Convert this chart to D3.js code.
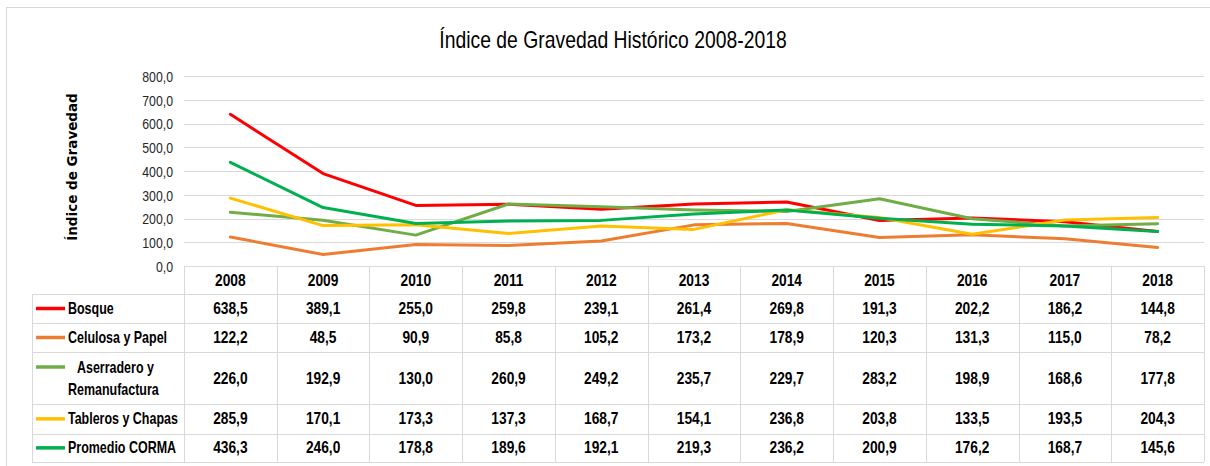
<!DOCTYPE html>
<html>
<head>
  <meta charset="utf-8">
  <title>Índice de Gravedad Histórico 2008-2018</title>
  <script src="https://cdn.jsdelivr.net/npm/d3@7/dist/d3.min.js"></script>
  <style>
    body { margin: 0; background: #fff; }
    svg { display: block; }
    text { font-family: "Liberation Sans", Arial, sans-serif; fill: #000; }
    .grid line { stroke: #d9d9d9; stroke-width: 1; }
    .cell { stroke: #d9d9d9; stroke-width: 1; }
    .tick-label { font-size: 15px; fill: #262626; }
    .bold { font-weight: bold; font-size: 16px; }
    .ytitle { font-family: "DejaVu Sans", sans-serif; font-weight: bold; font-size: 13.5px; }
    .series { fill: none; stroke-width: 3; stroke-linejoin: round; stroke-linecap: round; }
  </style>
</head>
<body>
  <svg id="chart"></svg>
  <script>
    var years = ['2008', '2009', '2010', '2011', '2012', '2013', '2014', '2015', '2016', '2017', '2018'];
    var seriesNames = ['Bosque', 'Celulosa y Papel', 'Aserradero y Remanufactura', 'Tableros y Chapas', 'Promedio CORMA'];
    var seriesColors = ['#ff0000', '#ed7d31', '#70ad47', '#ffc000', '#00b050'];

    var bosque = [638.5, 389.1, 255.0, 259.8, 239.1, 261.4, 269.8, 191.3, 202.2, 186.2, 144.8];
    var celulosa = [122.2, 48.5, 90.9, 85.8, 105.2, 173.2, 178.9, 120.3, 131.3, 115.0, 78.2];
    var aserradero = [226.0, 192.9, 130.0, 260.9, 249.2, 235.7, 229.7, 283.2, 198.9, 168.6, 177.8];
    var tableros = [285.9, 170.1, 173.3, 137.3, 168.7, 154.1, 236.8, 203.8, 133.5, 193.5, 204.3];
    var promedio = [436.3, 246.0, 178.8, 189.6, 192.1, 219.3, 236.2, 200.9, 176.2, 168.7, 145.6];

    var yTicks = [0, 100, 200, 300, 400, 500, 600, 700, 800];

    var seriesValues = [bosque, celulosa, aserradero, tableros, promedio];

    var W = 1210, H = 466;
    var plotLeft = 184, plotRight = 1204, plotTop = 76, plotBottom = 266;
    var legendLeft = 32;
    var headerHeight = 28;
    var rowHeights = [29, 29, 52, 29.7, 28.3];
    // no narrow face installed, so squeeze Liberation Sans horizontally
    var narrow = 0.82, narrowNum = 0.86, narrowLab = 0.78;

    var svg = d3.select('#chart')
      .attr('width', W)
      .attr('height', H);

    // outer chart frame
    svg.append('rect')
      .attr('x', 6.5).attr('y', 7.5)
      .attr('width', W).attr('height', H)
      .attr('fill', '#fff')
      .attr('stroke', '#d9d9d9');

    var fmt = function (v) { return d3.format('.1f')(v).replace('.', ','); };
    var px = function (v) { return Math.round(v) + 0.5; };

    // text helper: squeezed text centred vertically on y
    function label(g, tx, ty, str, cls, anchor, sx) {
      return g.append('text')
        .attr('class', cls)
        .attr('transform', 'translate(' + tx + ',' + ty + ') scale(' + (sx || narrow) + ',1)')
        .attr('dy', '0.35em')
        .attr('text-anchor', anchor || 'start')
        .text(str);
    }

    var x = d3.scaleBand()
      .domain(years)
      .range([plotLeft, plotRight]);

    var y = d3.scaleLinear()
      .domain([0, 800])
      .range([plotBottom, plotTop]);

    // title
    label(svg, 613, 40, 'Índice de Gravedad Histórico 2008-2018', null, 'middle')
      .style('font-size', '23.6px');

    // gridlines
    svg.append('g')
      .attr('class', 'grid')
      .selectAll('line')
      .data(yTicks.filter(function (d) { return d > 0; }))
      .enter()
      .append('line')
      .attr('x1', plotLeft).attr('x2', plotRight)
      .attr('y1', function (d) { return px(y(d)); })
      .attr('y2', function (d) { return px(y(d)); });

    // y axis labels
    var yAxis = d3.axisLeft(y)
      .tickValues(yTicks)
      .tickSize(0)
      .tickPadding(0)
      .tickFormat(fmt);

    var yg = svg.append('g')
      .attr('transform', 'translate(173,0)')
      .call(yAxis);
    yg.select('.domain').remove();
    yg.selectAll('text')
      .attr('class', 'tick-label')
      .attr('font-family', null)
      .attr('font-size', null)
      .attr('fill', null)
      .attr('x', 0)
      .attr('dy', '0.35em')
      .attr('transform', 'scale(' + narrow + ',1)');

    // y axis title
    svg.append('text')
      .attr('class', 'ytitle')
      .attr('transform', 'translate(77,167) rotate(-90)')
      .attr('text-anchor', 'middle')
      .text('Índice de Gravedad');

    // series lines
    var line = d3.line()
      .x(function (d, i) { return x(years[i]) + x.bandwidth() / 2; })
      .y(function (d) { return y(d); });

    // data table (drawn before the lines so they sit on top)
    var table = svg.append('g');
    var rowTops = [plotBottom + headerHeight];
    rowHeights.forEach(function (h, i) { rowTops.push(rowTops[i] + h); });
    var tableBottom = rowTops[rowTops.length - 1];

    // table borders
    table.append('line').attr('class', 'cell')
      .attr('x1', plotLeft).attr('x2', plotRight)
      .attr('y1', px(plotBottom)).attr('y2', px(plotBottom));
    rowTops.forEach(function (t) {
      table.append('line').attr('class', 'cell')
        .attr('x1', legendLeft).attr('x2', plotRight)
        .attr('y1', px(t)).attr('y2', px(t));
    });
    years.forEach(function (yr) {
      table.append('line').attr('class', 'cell')
        .attr('x1', px(x(yr))).attr('x2', px(x(yr)))
        .attr('y1', plotBottom).attr('y2', tableBottom);
    });
    table.append('line').attr('class', 'cell')
      .attr('x1', px(plotRight)).attr('x2', px(plotRight))
      .attr('y1', plotBottom).attr('y2', tableBottom);
    table.append('line').attr('class', 'cell')
      .attr('x1', px(legendLeft)).attr('x2', px(legendLeft))
      .attr('y1', rowTops[0]).attr('y2', tableBottom);

    // header row
    years.forEach(function (yr) {
      label(table, x(yr) + x.bandwidth() / 2, plotBottom + headerHeight / 2, yr, 'bold', 'middle', narrowNum);
    });

    seriesNames.forEach(function (name, r) {
      var top = rowTops[r], h = rowHeights[r], mid = top + h / 2;

      var keyY = r === 2 ? top + 15 : mid;
      table.append('line')
        .attr('x1', 36).attr('x2', 65)
        .attr('y1', keyY).attr('y2', keyY)
        .attr('stroke', seriesColors[r])
        .attr('stroke-width', 3.5);

      if (r === 2) {
        label(table, 77, top + 15, 'Aserradero y', 'bold', 'start', narrowLab);
        label(table, 68, top + 37, 'Remanufactura', 'bold', 'start', narrowLab);
      } else {
        label(table, 68, mid, name, 'bold', 'start', narrowLab);
      }

      seriesValues[r].forEach(function (v, i) {
        label(table, x(years[i]) + x.bandwidth() / 2, mid, fmt(v), 'bold', 'middle', narrowNum);
      });
    });

    svg.selectAll('.series')
      .data(seriesValues)
      .enter()
      .append('path')
      .attr('class', 'series')
      .attr('stroke', function (d, i) { return seriesColors[i]; })
      .attr('d', line);
  </script>
</body>
</html>
